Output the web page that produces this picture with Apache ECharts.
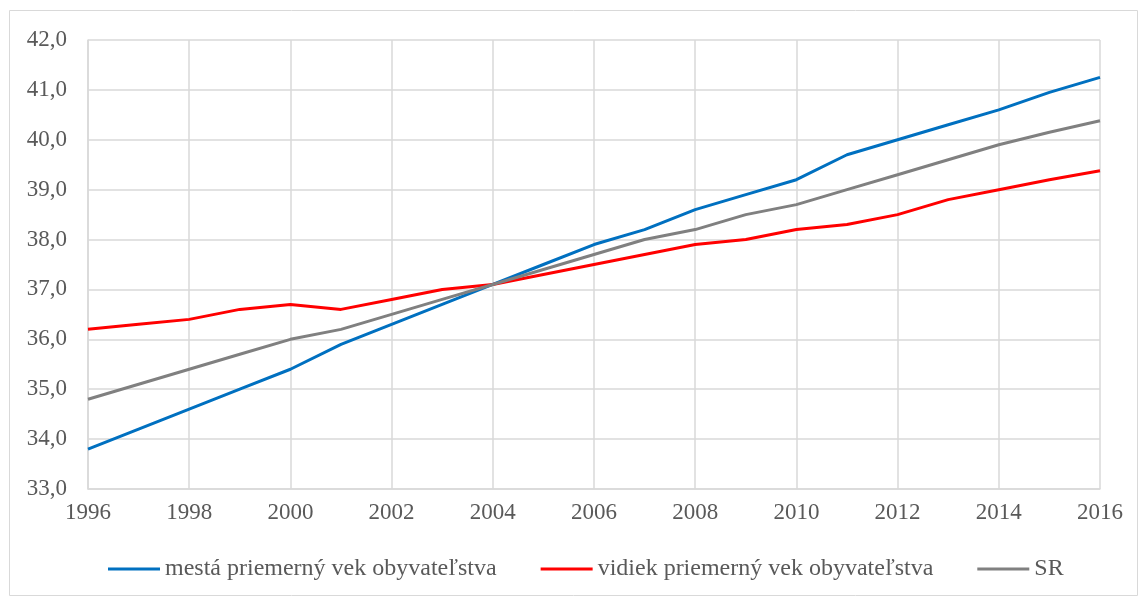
<!DOCTYPE html>
<html>
<head>
<meta charset="utf-8">
<script src="https://cdn.jsdelivr.net/npm/echarts@6/dist/echarts.min.js"></script>
<style>
  html, body { margin: 0; padding: 0; background: #fff; }
  #chart { width: 1144px; height: 599px; }
</style>
</head>
<body>
<div id="chart"></div>
<script>
var years = ['1996','1997','1998','1999','2000','2001','2002','2003','2004','2005','2006',
             '2007','2008','2009','2010','2011','2012','2013','2014','2015','2016'];
var mesta  = [33.8,34.2,34.6,35.0,35.4,35.9,36.3,36.7,37.1,37.5,37.9,38.2,38.6,38.9,39.2,39.7,40.0,40.3,40.6,40.95,41.25];
var vidiek = [36.2,36.3,36.4,36.6,36.7,36.6,36.8,37.0,37.1,37.3,37.5,37.7,37.9,38.0,38.2,38.3,38.5,38.8,39.0,39.2,39.38];
var sr     = [34.8,35.1,35.4,35.7,36.0,36.2,36.5,36.8,37.1,37.4,37.7,38.0,38.2,38.5,38.7,39.0,39.3,39.6,39.9,40.15,40.38];
var names = ['mestá priemerný vek obyvateľstva', 'vidiek priemerný vek obyvateľstva', 'SR'];

var font = 'Liberation Serif';
var myChart = echarts.init(document.getElementById('chart'));

function line(name, data, color) {
  return {
    name: name,
    type: 'line',
    data: data,
    symbol: 'none',
    lineStyle: { width: 3, color: color },
    itemStyle: { color: color }
  };
}

var option = {
  animation: false,
  textStyle: { fontFamily: font },
  graphic: [{
    type: 'rect',
    shape: { x: 9.5, y: 10.5, width: 1128, height: 585 },
    style: { fill: 'none', stroke: '#d9d9d9', lineWidth: 1 }
  }],
  legend: {
    top: 557,
    left: 108,
    padding: 0,
    itemWidth: 52,
    itemHeight: 3,
    itemGap: 44,
    icon: 'rect',
    textStyle: { fontFamily: font, fontSize: 24, color: '#595959' },
    data: names
  },
  grid: { left: 88, right: 44, top: 40, bottom: 110 },
  xAxis: {
    type: 'category',
    data: years,
    boundaryGap: false,
    axisLine: { lineStyle: { color: '#d9d9d9', width: 1.5 } },
    axisTick: { show: false },
    axisLabel: { interval: 1, fontFamily: font, fontSize: 23, color: '#595959', margin: 12 },
    splitLine: { show: true, interval: 1, lineStyle: { color: '#d9d9d9', width: 1.5 } }
  },
  yAxis: {
    type: 'value',
    min: 33,
    max: 42,
    interval: 1,
    axisLine: { show: true, lineStyle: { color: '#d9d9d9', width: 1.5 } },
    axisTick: { show: false },
    axisLabel: {
      fontFamily: font, fontSize: 23, color: '#595959', margin: 21,
      formatter: function (v) { return v.toFixed(1).replace('.', ','); }
    },
    splitLine: { lineStyle: { color: '#d9d9d9', width: 1.5 } }
  },
  series: [
    line(names[0], mesta, '#0070c0'),
    line(names[1], vidiek, '#ff0000'),
    line(names[2], sr, '#808080')
  ]
};
myChart.setOption(option);
</script>
</body>
</html>
